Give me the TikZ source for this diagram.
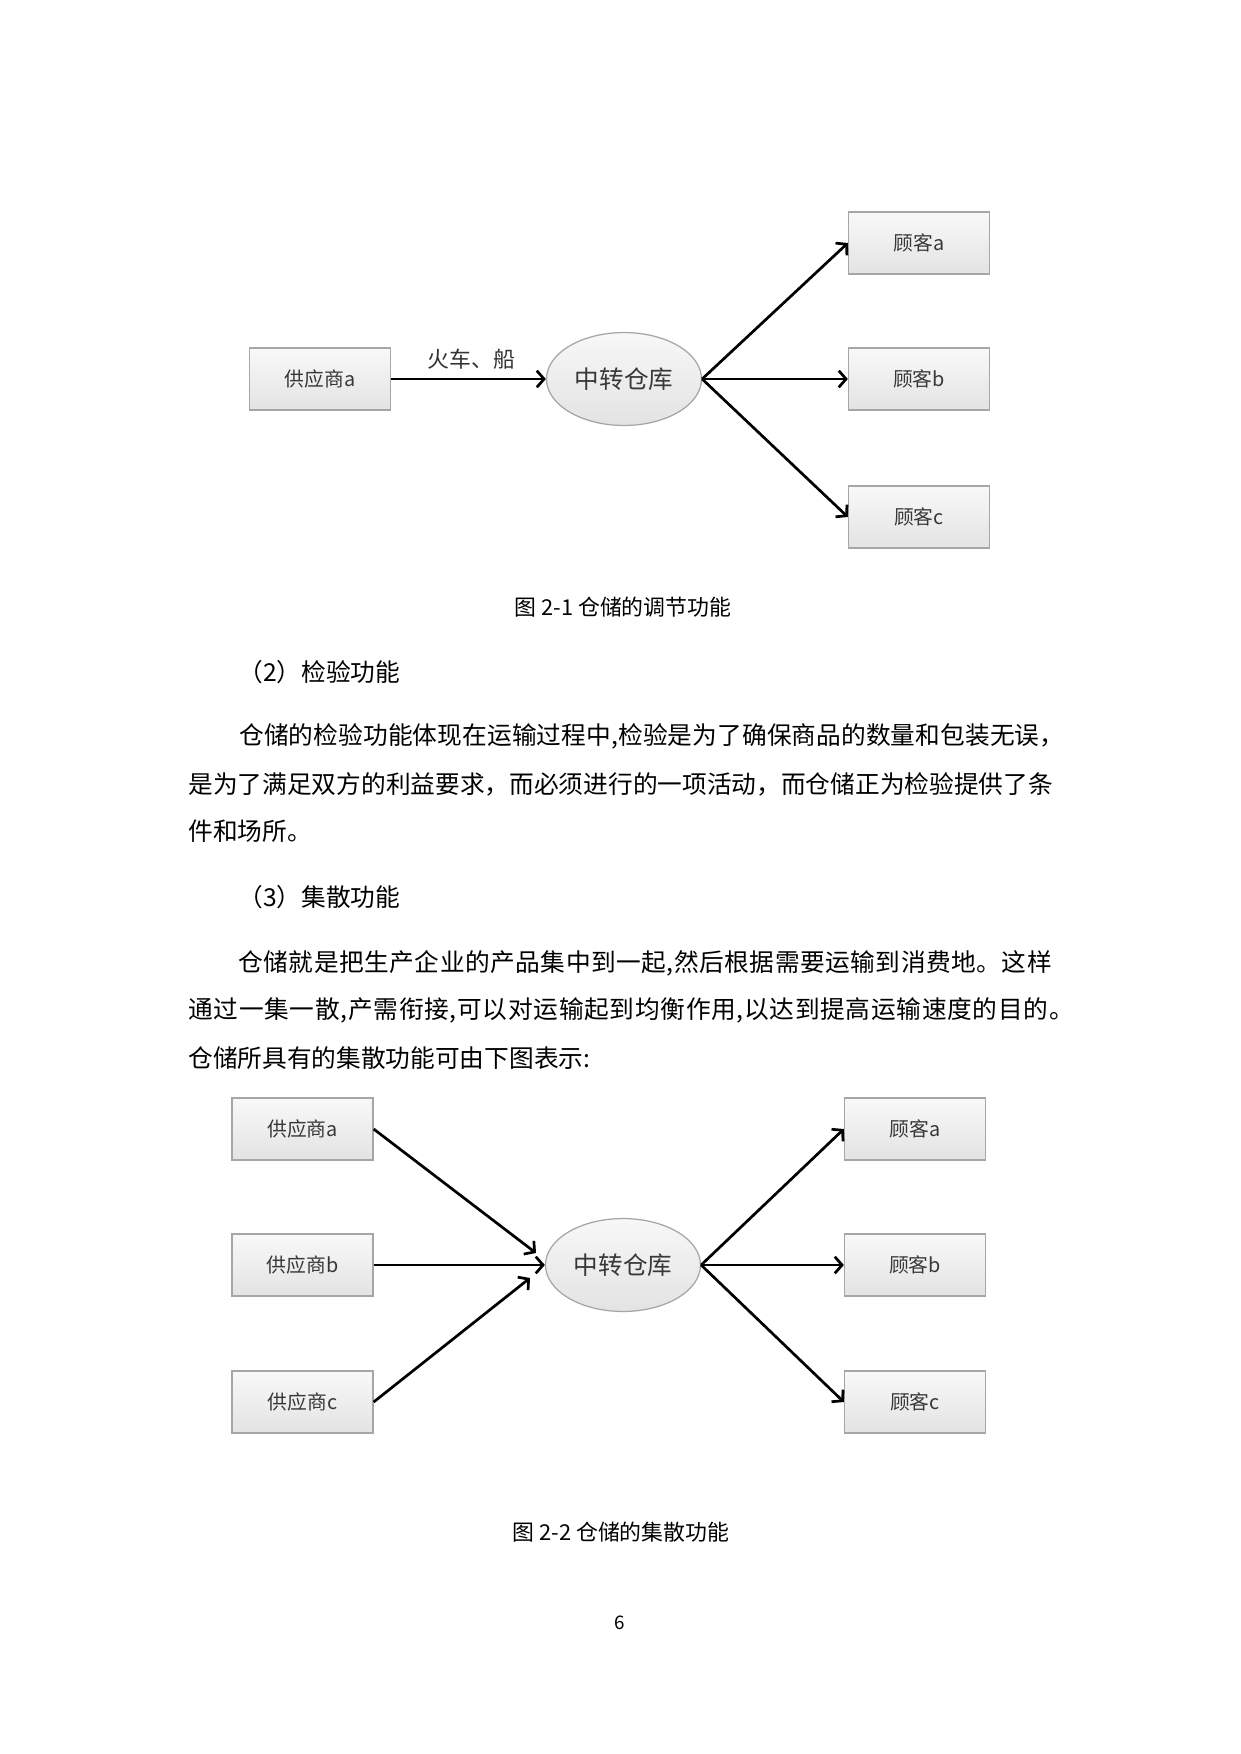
\documentclass[tikz,border=0pt]{standalone}
\usepackage{fontspec}
\setmainfont{Noto Sans CJK SC}
\usetikzlibrary{shapes.geometric,arrows.meta}
\makeatletter
\def\sp@loop#1{\ifx#1\relax\else#1\hskip 0pt plus 1fil\relax\expandafter\sp@loop\fi}
\newcommand\spreadline[2]{\hbox to #1{\sp@loop#2\relax\unskip}}
\makeatother
\tikzset{
  box/.style={draw=gray!70, line width=0.6pt, top color=gray!5, bottom color=gray!22,
    minimum width=67.7pt, minimum height=29.8pt, inner sep=0pt, text=black!78,
    font=\fontsize{9.5pt}{10pt}\selectfont},
  hub/.style={ellipse, draw=gray!70, line width=0.6pt, top color=gray!6, bottom color=gray!22,
    minimum width=74.4pt, minimum height=44.6pt, inner sep=0pt, text=black!78,
    font=\fontsize{11.8pt}{12pt}\selectfont},
  flow/.style={line width=1.3pt, -{Straight Barb[length=3.5pt,width=8pt]}},
  body/.style={anchor=west, inner sep=0pt, font=\fontsize{11.85pt}{12pt}\selectfont},
  figcap/.style={inner sep=0pt, font=\fontsize{10.5pt}{11pt}\selectfont},
  lbl/.style={inner sep=0pt, text=black!80, font=\fontsize{10.5pt}{11pt}\selectfont},
}
\begin{document}
\begin{tikzpicture}[x=0.48pt, y=-0.48pt]
\path[use as bounding box, fill=white] (0,0) rectangle (1241,1754);

% ---------- Figure 2-1 ----------
\node[box] (s1) at (320,379) {供应商a};
\node[hub] (h1) at (624,379) {中转仓库};
\node[box] (c1a) at (919,243) {顾客a};
\node[box] (c1b) at (919,379) {顾客b};
\node[box] (c1c) at (919,517) {顾客c};
\draw[flow] (s1.east) -- node[lbl, above=4pt, pos=0.52] (l1) {火车、船} (h1.west);
\draw[flow] (h1.east) -- (c1a.west);
\draw[flow] (h1.east) -- (c1b.west);
\draw[flow] (h1.east) -- (c1c.west);
\node[figcap] (cap1) at (623,607) {图 2-1 仓储的调节功能};

% ---------- Body text ----------
\node[body] (t1) at (238,672) {（2）检验功能};
\node[body] (t2) at (239,736) {\spreadline{396pt}{仓储的检验功能体现在运输过程中,检验是为了确保商品的数量和包装无误，}};
\node[body] (t3) at (188,784) {\spreadline{415pt}{是为了满足双方的利益要求，而必须进行的一项活动，而仓储正为检验提供了条}};
\node[body] (t4) at (188,831) {件和场所。};
\node[body] (t5) at (238,897) {（3）集散功能};
\node[body] (t6) at (238,963) {\spreadline{390.4pt}{仓储就是把生产企业的产品集中到一起,然后根据需要运输到消费地。这样}};
\node[body] (t7) at (188,1010) {\spreadline{425pt}{通过一集一散,产需衔接,可以对运输起到均衡作用,以达到提高运输速度的目的。}};
\node[body] (t8) at (188,1058) {仓储所具有的集散功能可由下图表示:};

% ---------- Figure 2-2 ----------
\node[box] (s2a) at (302.5,1129) {供应商a};
\node[box] (s2b) at (302.5,1265) {供应商b};
\node[box] (s2c) at (302.5,1402) {供应商c};
\node[hub] (h2) at (623,1265) {中转仓库};
\node[box] (c2a) at (915,1129) {顾客a};
\node[box] (c2b) at (915,1265) {顾客b};
\node[box] (c2c) at (915,1402) {顾客c};
\coordinate (in2a) at (536,1253);
\coordinate (in2c) at (530,1278);
\draw[flow] (s2a.east) -- (in2a);
\draw[flow] (s2b.east) -- (h2.west);
\draw[flow] (s2c.east) -- (in2c);
\draw[flow] (h2.east) -- (c2a.west);
\draw[flow] (h2.east) -- (c2b.west);
\draw[flow] (h2.east) -- (c2c.west);
\node[figcap] (cap2) at (621,1532) {图 2-2 仓储的集散功能};

\node[inner sep=0pt, font=\fontsize{9pt}{10pt}\selectfont] (pg) at (620,1623) {6};
\end{tikzpicture}
\end{document}
